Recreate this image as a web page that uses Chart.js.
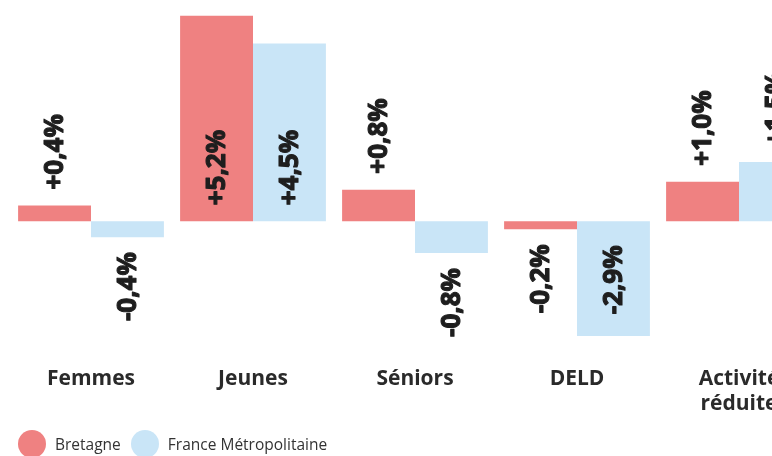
<!DOCTYPE html>
<html>
<head>
<meta charset="utf-8">
<script src="https://cdn.jsdelivr.net/npm/chart.js@4"></script>
<style>
    html, body { margin: 0; padding: 0; background: #fff; overflow: hidden; }
    #wrap { position: absolute; left: 0; top: 0; width: 830px; height: 433px; }
    #legende { position: absolute; left: 18px; top: 430px; font-family: "Open Sans", sans-serif; font-size: 15.5px; color: #333; display: flex; align-items: center; }
    .item { display: flex; align-items: center; margin-right: 10px; }
    .pastille { width: 28px; height: 28px; border-radius: 50%; margin-right: 9px; }
</style>
</head>
<body>
<div id="wrap"><canvas id="barChart"></canvas></div>
<div id="legende"></div>
<script>
// Données
const categories = ['Femmes', 'Jeunes', 'Séniors', 'DELD', ['Activité', 'réduite']];
const bretagne = [0.4, 5.2, 0.8, -0.2, 1.0];
const france = [-0.4, 4.5, -0.8, -2.9, 1.5];
const series = ['Bretagne', 'France Métropolitaine'];
const couleurs = ['#ef8181', '#c9e5f7'];

function formatVal(v) {
    return (v > 0 ? '+' : '') + v.toFixed(1).replace('.', ',') + '%';
}

// --- Étiquettes verticales sur les barres ---
const etiquettes = {
    id: 'etiquettes',
    afterDatasetsDraw(chart) {
        const ctx = chart.ctx;
        ctx.save();
        ctx.font = 'normal normal 700 26px "Open Sans"';
        ctx.fillStyle = '#1e1e1e';
        ctx.strokeStyle = '#1e1e1e';
        ctx.lineWidth = 1.1;
        ctx.lineJoin = 'round';
        ctx.textBaseline = 'middle';
        chart.data.datasets.forEach((ds, i) => {
            const meta = chart.getDatasetMeta(i);
            meta.data.forEach((bar, j) => {
                const v = ds.data[j];
                const txt = formatVal(v);
                const w = ctx.measureText(txt).width;
                let yStart; // bas du texte tourné
                if (Math.abs(v) >= 2) {
                    // à l'intérieur, près de la ligne zéro
                    yStart = v > 0 ? bar.base - 16 : bar.base + 24 + w;
                } else {
                    yStart = v > 0 ? bar.y - 16 : bar.y + 15 + w;
                }
                ctx.save();
                ctx.translate(bar.x + 1, yStart);
                ctx.rotate(-Math.PI / 2);
                ctx.textAlign = 'left';
                ctx.fillText(txt, 0, 0);
                ctx.strokeText(txt, 0, 0);
                ctx.restore();
            });
        });
        ctx.restore();
    }
};

const ctx = document.getElementById('barChart').getContext('2d');
new Chart(ctx, {
    type: 'bar',
    data: {
        labels: categories,
        datasets: [
            { label: series[0], data: bretagne, backgroundColor: couleurs[0] },
            { label: series[1], data: france, backgroundColor: couleurs[1] }
        ]
    },
    options: {
        responsive: true,
        maintainAspectRatio: false,
        animation: false,
        categoryPercentage: 0.9,
        barPercentage: 1.0,
        layout: { padding: { left: 10, right: 10, top: 0, bottom: 0 } },
        plugins: {
            legend: { display: false },
            tooltip: { enabled: false }
        },
        scales: {
            x: {
                grid: { display: false, drawTicks: false },
                border: { display: false },
                ticks: {
                    padding: 16,
                    color: '#2a2a2a',
                    font: { family: 'Open Sans', size: 21, weight: 'bold' }
                }
            },
            y: {
                display: false,
                min: -3.27,
                max: 5.6
            }
        }
    },
    plugins: [etiquettes]
});

// --- Légende ---
const legende = document.getElementById('legende');
series.forEach((nom, i) => {
    legende.innerHTML += `<div class="item"><div class="pastille" style="background:${couleurs[i]}"></div>${nom}</div>`;
});
</script>
</body>
</html>
